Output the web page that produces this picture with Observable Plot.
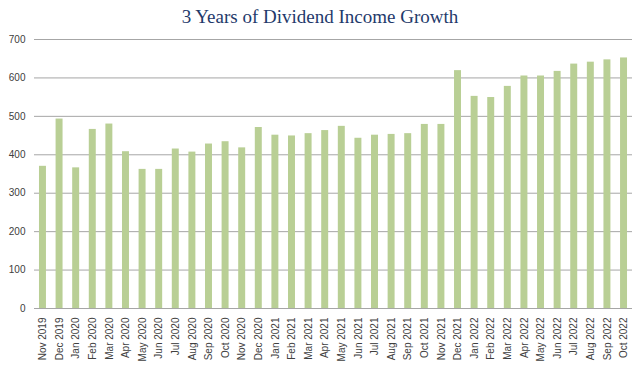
<!DOCTYPE html>
<html>
<head>
<meta charset="utf-8">
<script src="https://cdn.jsdelivr.net/npm/d3@7"></script>
<script src="https://cdn.jsdelivr.net/npm/@observablehq/plot@0.6"></script>
<style>
  html, body { margin: 0; padding: 0; background: #fff; }
  #title { height: 34px; line-height: 34px; text-align: center; font-family: "Liberation Serif", serif; font-size: 19px; color: #1f3a6b; }
</style>
</head>
<body>
<div id="title">3 Years of Dividend Income Growth</div>
<div id="chart"></div>
<script>
const months = [
  "Nov 2019","Dec 2019",
  "Jan 2020","Feb 2020","Mar 2020","Apr 2020","May 2020","Jun 2020","Jul 2020","Aug 2020","Sep 2020","Oct 2020","Nov 2020","Dec 2020",
  "Jan 2021","Feb 2021","Mar 2021","Apr 2021","May 2021","Jun 2021","Jul 2021","Aug 2021","Sep 2021","Oct 2021","Nov 2021","Dec 2021",
  "Jan 2022","Feb 2022","Mar 2022","Apr 2022","May 2022","Jun 2022","Jul 2022","Aug 2022","Sep 2022","Oct 2022"
];
const income = [
  370, 493,
  366, 466, 480, 408, 362, 362, 415, 407, 428, 434, 418, 471,
  451, 449, 455, 463, 474, 443, 451, 453, 455, 479, 479, 619,
  552, 549, 578, 605, 605, 617, 636, 641, 647, 652
];
const yTicks = [0, 100, 200, 300, 400, 500, 600, 700];

const data = months.map((m, i) => ({month: m, value: income[i]}));

const chart = Plot.plot({
  width: 640,
  height: 334,
  marginTop: 5,
  marginBottom: 60,
  marginLeft: 34,
  marginRight: 8,
  style: {fontFamily: "'Liberation Sans', Arial, sans-serif", fontSize: "10px", color: "#404040", background: "#fff"},
  x: {domain: months, paddingInner: 0.58, paddingOuter: 0.3, round: false, label: null},
  y: {domain: [0, 700], label: null},
  marks: [
    Plot.ruleY(yTicks, {stroke: "#a6a6a6", strokeWidth: 1}),
    Plot.barY(data, {x: "month", y: "value", fill: "#b9cf95"}),
    Plot.axisY({ticks: yTicks, tickSize: 0, tickPadding: 9, label: null, line: true, stroke: "#a6a6a6", color: "#404040"}),
    Plot.axisX({tickRotate: -90, tickSize: 0, tickPadding: 9, label: null, color: "#404040"})
  ]
});
document.getElementById("chart").appendChild(chart);
</script>
</body>
</html>
